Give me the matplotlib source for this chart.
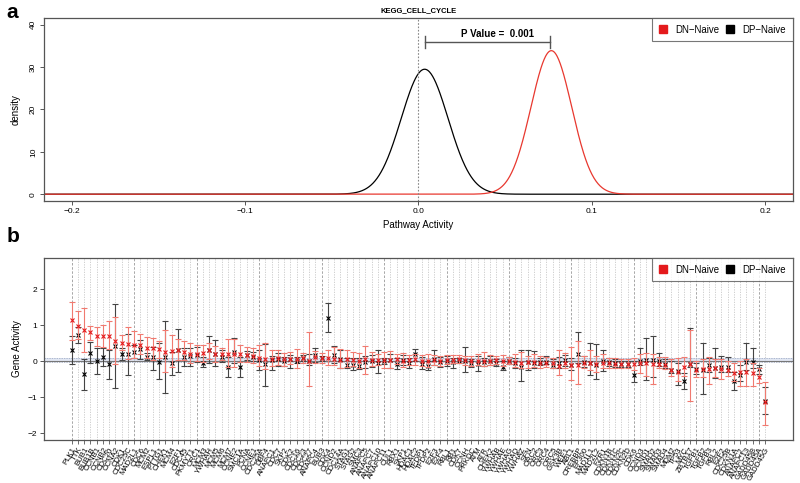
import numpy as np
import matplotlib
matplotlib.use('Agg')
import matplotlib.pyplot as plt
from matplotlib.lines import Line2D

plt.rcParams['font.family'] = ['Liberation Sans', 'DejaVu Sans']

# panel a: pathway activity densities (normal fits: mean, sd)
dn_mean, dn_sd = 0.0767, 0.01177
dp_mean, dp_sd = 0.0036, 0.01352
p_value = "0.001"

# panel b: gene activity per gene
genes = ["PLK1", "TTK", "BUB1", "BUB1B", "CCNB1", "CCNB2", "CDC20", "CCNA2", "CDK1", "CDC25C",
         "MAD2L1", "CDC6", "MCM2", "ESPL1", "PTTG1", "CHEK1", "MCM4", "E2F1", "CDC45", "PKMYT1",
         "ORC1", "MCM3", "YWHAH", "MCM5", "MCM6", "MCM7", "CCNE2", "SMC1A", "PCNA", "CCNE1",
         "CDC25A", "DBF4", "ANAPC1", "CDC7", "SKP2", "CDK2", "CDC16", "CDC23", "CDC27", "ANAPC4",
         "BUB3", "CDK4", "CCND2", "CDC14A", "STAG1", "STAG2", "SMC3", "ANAPC5", "ANAPC7", "ANAPC10",
         "ANAPC11", "CUL1", "RBX1", "SKP1", "HDAC1", "HDAC2", "TFDP1", "TFDP2", "E2F3", "E2F4",
         "RBL1", "RB1", "CDK7", "CCNH", "PRKDC", "ATM", "ATR", "CHEK2", "YWHAB", "YWHAE",
         "YWHAG", "YWHAQ", "YWHAZ", "SFN", "ORC2", "ORC3", "ORC4", "ORC5", "GSK3B", "WEE1",
         "ABL1", "CREBBP", "EP300", "MAD1L1", "MAD2L2", "FZR1", "CDKN1B", "CDKN1C", "CDKN2C", "CDKN2D",
         "CDK6", "CCND3", "CCND1", "SMAD2", "SMAD3", "SMAD4", "MDM2", "TP53", "MYC", "ZBTB17",
         "TGFB1", "TGFB2", "TGFB3", "RBL2", "E2F2", "CDC25B", "CDKN1A", "ANAPC2", "ANAPC13", "GADD45B",
         "GADD45A", "GADD45G"]

dn_mid = [1.15, 0.99, 0.88, 0.81, 0.69, 0.69, 0.69, 0.57, 0.51, 0.47,
          0.45, 0.45, 0.36, 0.36, 0.33, 0.27, 0.28, 0.30, 0.26, 0.20,
          0.20, 0.22, 0.30, 0.20, 0.19, 0.19, 0.20, 0.19, 0.16, 0.14,
          0.10, 0.07, 0.06, 0.08, 0.05, 0.06, 0.07, 0.08, 0.00, 0.12,
          0.08, 0.08, 0.05, 0.04, 0.06, 0.04, 0.02, 0.05, 0.03, 0.04,
          0.03, 0.03, 0.05, 0.02, 0.03, 0.05, 0.02, 0.00, 0.03, 0.02,
          0.03, 0.04, 0.05, 0.03, 0.00, 0.02, 0.00, 0.02, 0.03, 0.00,
          0.02, -0.02, -0.05, -0.02, -0.03, -0.05, -0.04, -0.06, -0.12, -0.05,
          -0.10, -0.10, -0.05, -0.05, -0.08, -0.06, -0.05, -0.08, -0.08, -0.08,
          -0.08, -0.05, -0.05, -0.08, -0.08, -0.10, -0.24, -0.29, -0.15, -0.08,
          -0.24, -0.22, -0.22, -0.20, -0.22, -0.25, -0.33, -0.30, -0.29, -0.33,
          -0.43, -1.12]
dn_hi = [1.66, 1.40, 1.49, 0.98, 0.96, 1.00, 1.11, 1.24, 0.74, 0.96,
         0.84, 0.75, 0.68, 0.66, 0.57, 0.86, 0.72, 0.62, 0.55, 0.50,
         0.46, 0.46, 0.50, 0.42, 0.38, 0.62, 0.62, 0.45, 0.40, 0.36,
         0.45, 0.50, 0.30, 0.30, 0.22, 0.25, 0.35, 0.22, 0.80, 0.28,
         0.22, 0.30, 0.40, 0.35, 0.30, 0.25, 0.22, 0.42, 0.25, 0.20,
         0.25, 0.28, 0.20, 0.22, 0.18, 0.20, 0.18, 0.20, 0.18, 0.15,
         0.18, 0.16, 0.18, 0.14, 0.15, 0.20, 0.25, 0.18, 0.15, 0.18,
         0.12, 0.20, 0.25, 0.15, 0.20, 0.15, 0.12, 0.10, 0.30, 0.22,
         0.39, 0.55, 0.15, 0.30, 0.15, 0.20, 0.10, 0.08, 0.05, 0.05,
         0.10, 0.19, 0.22, 0.20, 0.12, 0.12, 0.05, 0.08, 0.13, 0.88,
         0.02, 0.05, 0.13, 0.05, 0.05, 0.00, -0.05, 0.00, 0.05, -0.05,
         -0.20, -0.58]
dn_lo = [0.60, 0.61, 0.27, 0.60, 0.41, 0.40, 0.34, -0.08, 0.31, 0.05,
         0.10, 0.20, 0.08, 0.03, 0.08, -0.31, -0.15, 0.03, 0.03, -0.06,
         0.00, -0.02, 0.06, -0.02, 0.03, -0.16, -0.15, -0.02, -0.03, -0.06,
         -0.14, -0.22, -0.14, -0.10, -0.12, -0.08, -0.18, -0.05, -0.70, -0.05,
         -0.06, -0.10, -0.10, -0.18, -0.15, -0.12, -0.20, -0.36, -0.12, -0.10,
         -0.20, -0.18, -0.08, -0.15, -0.10, -0.10, -0.12, -0.15, -0.10, -0.12,
         -0.08, -0.06, -0.05, -0.10, -0.12, -0.10, -0.12, -0.10, -0.08, -0.12,
         -0.08, -0.15, -0.20, -0.18, -0.15, -0.20, -0.15, -0.20, -0.38, -0.20,
         -0.52, -0.63, -0.20, -0.25, -0.30, -0.20, -0.18, -0.20, -0.18, -0.20,
         -0.25, -0.33, -0.40, -0.64, -0.20, -0.22, -0.40, -0.55, -0.40, -1.10,
         -0.45, -0.45, -0.64, -0.45, -0.50, -0.40, -0.55, -0.70, -0.70, -0.70,
         -0.60, -1.77]

dp_mid = [0.31, 0.73, -0.36, 0.24, 0.00, 0.12, -0.08, 0.41, 0.19, 0.19,
          0.27, 0.33, 0.13, 0.11, -0.01, 0.12, -0.06, 0.30, 0.12, 0.14,
          0.17, -0.05, 0.30, 0.21, 0.12, -0.17, 0.26, -0.17, 0.16, 0.12,
          0.04, -0.08, 0.03, 0.06, 0.00, 0.06, 0.02, 0.08, 0.00, 0.17,
          0.08, 1.21, 0.17, 0.05, -0.10, -0.10, -0.12, -0.02, 0.02, -0.05,
          0.00, 0.03, -0.08, 0.03, -0.05, 0.20, -0.08, -0.12, 0.05, -0.03,
          0.00, -0.02, 0.02, 0.00, -0.05, -0.08, -0.02, 0.00, -0.05, -0.15,
          0.02, -0.05, -0.17, -0.02, -0.05, -0.02, -0.02, -0.10, -0.05, 0.03,
          -0.10, 0.19, -0.03, -0.05, -0.10, 0.00, -0.02, -0.05, -0.08, -0.08,
          -0.38, 0.02, 0.03, 0.03, 0.00, -0.08, -0.24, -0.28, -0.54, -0.08,
          -0.22, -0.24, -0.10, -0.20, -0.15, -0.15, -0.54, -0.38, -0.02, -0.02,
          -0.22, -1.10]
dp_hi = [0.71, 0.96, 0.05, 0.54, 0.36, 0.36, 0.32, 1.58, 0.36, 0.77,
         0.45, 0.60, 0.22, 0.40, 0.52, 1.11, 0.27, 0.90, 0.38, 0.36,
         0.40, 0.12, 0.70, 0.58, 0.30, 0.12, 0.64, 0.12, 0.28, 0.25,
         0.30, 0.48, 0.15, 0.22, 0.12, 0.18, 0.12, 0.18, 0.20, 0.38,
         0.15, 1.61, 0.41, 0.30, 0.08, 0.10, 0.08, 0.15, 0.18, 0.31,
         0.10, 0.20, 0.10, 0.18, 0.10, 0.34, 0.12, 0.00, 0.30, 0.12,
         0.14, 0.10, 0.10, 0.40, 0.05, 0.15, 0.10, 0.15, 0.05, 0.00,
         0.12, 0.10, 0.32, 0.32, 0.29, 0.10, 0.15, 0.05, 0.12, 0.18,
         0.10, 0.80, 0.15, 0.50, 0.49, 0.32, 0.10, 0.05, 0.02, 0.00,
         0.00, 0.38, 0.64, 0.71, 0.24, 0.05, 0.00, -0.05, -0.33, 0.92,
         -0.05, 0.52, 0.10, 0.36, 0.15, 0.13, -0.30, -0.10, 0.52, 0.38,
         -0.10, -0.72]
dp_lo = [-0.09, 0.50, -0.80, -0.06, -0.36, -0.14, -0.48, -0.75, 0.03, -0.39,
         0.10, 0.07, 0.03, -0.24, -0.50, -0.88, -0.38, -0.31, -0.13, -0.13,
         -0.01, -0.16, -0.05, -0.12, -0.02, -0.44, -0.05, -0.45, 0.04, 0.00,
         -0.24, -0.69, -0.23, -0.12, -0.12, -0.18, -0.06, 0.00, -0.10, -0.03,
         0.00, 0.80, -0.04, -0.20, -0.20, -0.25, -0.22, -0.18, -0.15, -0.34,
         -0.08, -0.20, -0.22, -0.10, -0.20, 0.02, -0.22, -0.25, -0.10, -0.15,
         -0.12, -0.18, -0.05, -0.31, -0.15, -0.26, -0.12, -0.10, -0.12, -0.25,
         -0.08, -0.18, -0.54, -0.25, -0.20, -0.10, -0.08, -0.20, -0.20, -0.12,
         -0.25, -0.05, -0.15, -0.38, -0.50, -0.27, -0.12, -0.15, -0.15, -0.15,
         -0.57, -0.10, -0.52, -0.43, -0.12, -0.18, -0.33, -0.66, -0.78, -0.15,
         -0.35, -0.92, -0.30, -0.47, -0.30, -0.30, -0.80, -0.55, -0.25, -0.20,
         -0.35, -1.47]

red = "#E41A1C"
red_bar = "#F07A70"
frame = "#555555"

fig = plt.figure(figsize=(8, 4.83), dpi=100)

# ---------- panel a ----------
ax1 = fig.add_axes([0.055, 0.5839, 0.936, 0.3788])
xs = np.linspace(-0.3, 0.3, 2000)
def npdf(x, m, s):
    return np.exp(-0.5 * ((x - m) / s) ** 2) / (s * np.sqrt(2 * np.pi))
ax1.plot(xs, npdf(xs, dp_mean, dp_sd), color="black", lw=0.9)
ax1.plot(xs, npdf(xs, dn_mean, dn_sd), color="#E8382F", lw=0.9)
ax1.axvline(0, color="#888888", ls=(0, (1.5, 1.5)), lw=0.8)
ax1.set_xlim(-0.216, 0.216)
ax1.set_ylim(-1.6, 41.6)
ax1.set_xticks([-0.2, -0.1, 0.0, 0.1, 0.2])
ax1.set_xticklabels(["\u22120.2", "\u22120.1", "0.0", "0.1", "0.2"])
ax1.set_yticks([0, 10, 20, 30, 40])
ax1.tick_params(axis="both", labelsize=6, length=3, color=frame, width=0.7, pad=2)
for lab in ax1.get_yticklabels():
    lab.set_rotation(90)
    lab.set_va("center")
for s in ax1.spines.values():
    s.set_color(frame)
    s.set_linewidth(0.9)
ax1.set_xlabel("Pathway Activity", fontsize=7, labelpad=4)
ax1.set_ylabel("density", fontsize=7, labelpad=7)
ax1.set_title("KEGG_CELL_CYCLE", fontsize=5.5, fontweight="bold", pad=4)

# p value bracket
by = 36.0
ax1.plot([dp_mean, dn_mean - 0.001], [by, by], color="#555555", lw=1.0)
ax1.plot([dp_mean, dp_mean], [by - 1.4, by + 1.4], color="#555555", lw=1.0)
ax1.plot([dn_mean - 0.001, dn_mean - 0.001], [by - 1.4, by + 1.4], color="#555555", lw=1.0)
ax1.text(0.0455, by + 1.9, "P Value =  " + p_value, fontsize=7, fontweight="bold",
         ha="center", va="center")

handles = [Line2D([], [], marker="s", ls="none", color=red, markersize=5.2),
           Line2D([], [], marker="s", ls="none", color="black", markersize=5.2)]
leg_kw = dict(loc="upper right", ncol=2, fontsize=6.9, frameon=True, fancybox=False,
              borderaxespad=0, handlelength=1.0, handletextpad=0.8, columnspacing=0.6,
              borderpad=0.7)
lg = ax1.legend(handles, ["DN\u2212Naive", "DP\u2212Naive"], **leg_kw)
lg.get_frame().set_edgecolor(frame)
lg.get_frame().set_linewidth(0.8)

# ---------- panel b ----------
ax2 = fig.add_axes([0.055, 0.089, 0.936, 0.3768])
n = len(genes)
pos = np.arange(1, n + 1)
for i in pos:
    if (i - 1) % 10 == 0:
        ax2.axvline(i, color="#999999", ls=(0, (3, 2)), lw=0.6, zorder=0)
    else:
        ax2.axvline(i, color="#C8C8C8", ls=(0, (1.5, 1.5)), lw=0.6, zorder=0)

ax2.axhspan(-0.03, 0.09, color="#D5DDEE", alpha=0.7, zorder=0.5, lw=0)
ax2.axhline(-0.03, color="#9AA6C0", ls=(0, (2, 1.5)), lw=0.5, zorder=0.6)
ax2.axhline(0.09, color="#9AA6C0", ls=(0, (2, 1.5)), lw=0.5, zorder=0.6)
ax2.axhline(0.0, color="#777777", lw=0.8, zorder=0.7)

dp_mid_a = np.array(dp_mid)
dn_mid_a = np.array(dn_mid)
ax2.errorbar(pos, dp_mid_a, yerr=[dp_mid_a - np.array(dp_lo), np.array(dp_hi) - dp_mid_a],
             fmt="none", ecolor="#444444", elinewidth=0.8, capsize=2.4, capthick=0.8, zorder=2)
ax2.plot(pos, dp_mid_a, "x", color="black", markersize=2.8, mew=0.8, zorder=3)
ax2.errorbar(pos, dn_mid_a, yerr=[dn_mid_a - np.array(dn_lo), np.array(dn_hi) - dn_mid_a],
             fmt="none", ecolor=red_bar, elinewidth=0.8, capsize=2.4, capthick=0.8, zorder=4)
ax2.plot(pos, dn_mid_a, "x", color=red, markersize=2.8, mew=0.8, zorder=5)

ax2.set_xlim(1 - 0.04 * (n - 1), n + 0.04 * (n - 1))
ax2.set_ylim(-2.19, 2.87)
ax2.set_yticks([-2, -1, 0, 1, 2])
ax2.set_yticklabels(["\u22122", "\u22121", "0", "1", "2"])
ax2.set_xticks(pos)
ax2.set_xticklabels(genes, rotation=60, ha="right", rotation_mode="anchor", fontsize=5.6)
ax2.tick_params(axis="x", length=3, color=frame, width=0.6, pad=1.5)
ax2.tick_params(axis="y", labelsize=6, length=3, color=frame, width=0.7, pad=2)
for s in ax2.spines.values():
    s.set_color(frame)
    s.set_linewidth(0.9)
ax2.set_ylabel("Gene Activity", fontsize=7, labelpad=4)
lg2 = ax2.legend(handles, ["DN\u2212Naive", "DP\u2212Naive"], **leg_kw)
lg2.get_frame().set_edgecolor(frame)
lg2.get_frame().set_linewidth(0.8)

fig.text(0.008, 0.975, "a", fontsize=15, fontweight="bold", va="center")
fig.text(0.008, 0.51, "b", fontsize=15, fontweight="bold", va="center")

fig.savefig("out.png", dpi=100)
